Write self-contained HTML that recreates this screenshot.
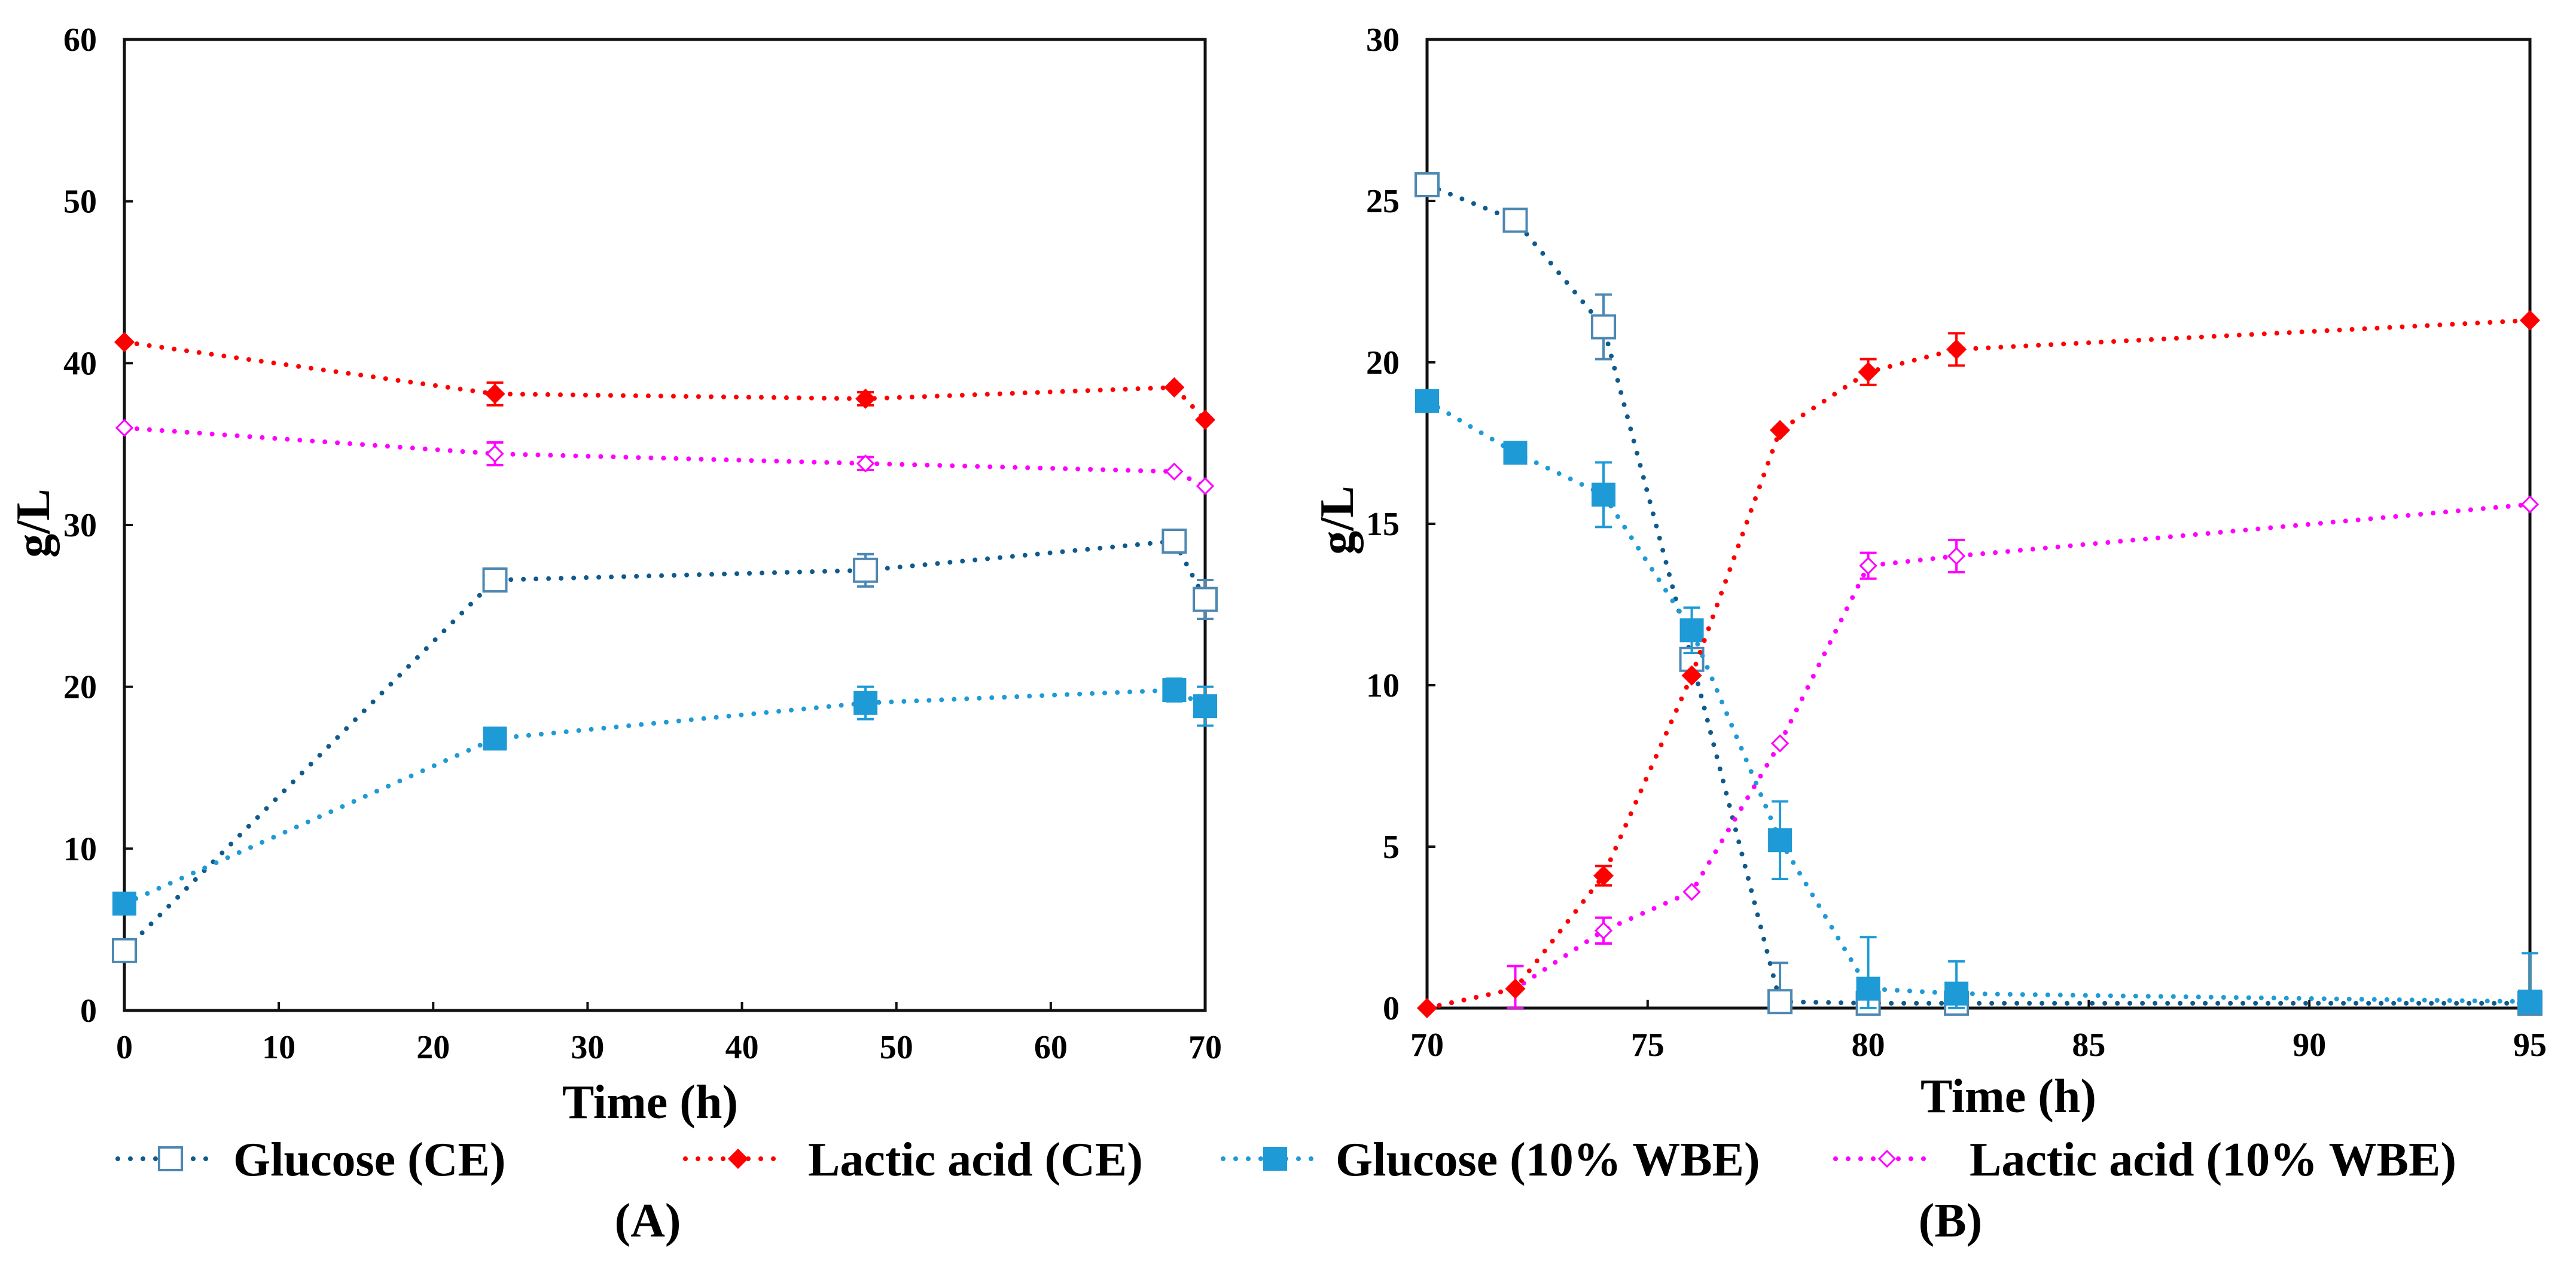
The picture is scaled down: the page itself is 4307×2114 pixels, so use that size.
<!DOCTYPE html>
<html><head><meta charset="utf-8"><style>
html,body{margin:0;padding:0;background:#fff;}
svg{display:block;font-family:"Liberation Serif","Times New Roman",serif;font-weight:bold;}
</style></head><body>
<svg id="fig" width="4307" height="2114" viewBox="0 0 4307 2114" xmlns="http://www.w3.org/2000/svg">
<g id="panelA"></g>
<g id="panelB"></g>
<g id="legend"></g>
<text x="1083" y="2068" font-size="80" text-anchor="middle">(<tspan>A</tspan>)</text>
<text x="3261" y="2068" font-size="80" text-anchor="middle">(<tspan>B</tspan>)</text>
</svg>
<script>
// ---------- Data ----------
const timeA = [0, 24, 48, 68, 70];
const glucCE_A = [3.7, 26.6, 27.2, 29.0, 25.4];
const glucCE_A_err = [0, 0, 1.0, 0.7, 1.2];
const lacCE_A = [41.3, 38.1, 37.8, 38.5, 36.5];
const lacCE_A_err = [0, 0.7, 0.4, 0, 0];
const glucWBE_A = [6.6, 16.8, 19.0, 19.8, 18.8];
const glucWBE_A_err = [0, 0, 1.0, 0.7, 1.2];
const lacWBE_A = [36.0, 34.4, 33.8, 33.3, 32.4];
const lacWBE_A_err = [0, 0.7, 0.4, 0, 0];

const timeB = [70, 72, 74, 76, 78, 80, 82, 95];
const glucCE_B = [25.5, 24.4, 21.1, 10.8, 0.2, 0.15, 0.15, 0.15];
const glucCE_B_err = [0, 0, 1.0, 0, 1.2, 0, 0, 0];
const lacCE_B = [0, 0.6, 4.1, 10.3, 17.9, 19.7, 20.4, 21.3];
const lacCE_B_err = [0, 0, 0.3, 0, 0, 0.4, 0.5, 0];
const glucWBE_B = [18.8, 17.2, 15.9, 11.7, 5.2, 0.6, 0.45, 0.2];
const glucWBE_B_err = [0, 0, 1.0, 0.7, 1.2, 1.6, 1.0, 1.5];
const lacWBE_B = [0, 0.6, 2.4, 3.6, 8.2, 13.7, 14.0, 15.6];
const lacWBE_B_err = [0, 0.7, 0.4, 0, 0, 0.4, 0.5, 0];

const ticksXA = [0, 10, 20, 30, 40, 50, 60, 70];
const ticksYA = [0, 10, 20, 30, 40, 50, 60];
const ticksXB = [70, 75, 80, 85, 90, 95];
const ticksYB = [0, 5, 10, 15, 20, 25, 30];

const C_GCE = "#0f5a8c", C_GCE_M = "#4d88b3", C_LCE = "#ff0000", C_GW = "#1e9ad6", C_LW = "#ff00ff";
const NS = "http://www.w3.org/2000/svg";
function mk(tag, attrs, parent) {
  const e = document.createElementNS(NS, tag);
  for (const k in attrs) e.setAttribute(k, attrs[k]);
  parent.appendChild(e);
  return e;
}

function marker(g, type, x, y, name) {
  let m;
  if (type === "hsq") {
    m = mk("rect", {x: x-19, y: y-19, width: 38, height: 38, fill: "#fff", stroke: C_GCE_M, "stroke-width": 4}, g);
  } else if (type === "fsq") {
    m = mk("rect", {x: x-20, y: y-20, width: 40, height: 40, fill: C_GW}, g);
  } else if (type === "fdia") {
    m = mk("polygon", {points: `${x},${y-17} ${x+17},${y} ${x},${y+17} ${x-17},${y}`, fill: C_LCE}, g);
  } else {
    m = mk("polygon", {points: `${x},${y-13} ${x+13},${y} ${x},${y+13} ${x-13},${y}`, fill: "#fff", stroke: C_LW, "stroke-width": 3}, g);
  }
  
  
}

function panel(gid, P, xs, ys, xmin, xmax, ymax, series, sx, sy) {
  const g = document.getElementById(gid);
  const X = v => P.l + (v - xmin) / (xmax - xmin) * (P.r - P.l);
  const Y = v => P.b - v / ymax * (P.b - P.t);
  const frame = mk("rect", {x: P.l, y: P.t, width: P.r - P.l, height: P.b - P.t, fill: "none", stroke: "#111", "stroke-width": 5}, g);
  
  
  xs.forEach(v => {
    const t = mk("line", {x1: X(v), x2: X(v), y1: P.b, y2: P.b - 14, stroke: "#111", "stroke-width": 4}, g);
    
    
    const l = mk("text", {x: X(v), y: P.b + 80, "font-size": 56, "text-anchor": "middle"}, g);
    l.textContent = v;
    
    
  });
  ys.forEach(v => {
    const t = mk("line", {x1: P.l, x2: P.l + 14, y1: Y(v), y2: Y(v), stroke: "#111", "stroke-width": 4}, g);
    
    
    const l = mk("text", {x: P.l - 46, y: Y(v) + 19, "font-size": 56, "text-anchor": "end"}, g);
    l.textContent = v;
    
    
  });
  const yt = mk("text", {x: sy.x, y: sy.y, "font-size": 80, "text-anchor": "middle", transform: `rotate(-90 ${sy.x} ${sy.y})`}, g);
  yt.textContent = "g/L";
  
  
  const xt = mk("text", {x: sx.x, y: sx.y, "font-size": 80, "text-anchor": "middle"}, g);
  xt.textContent = "Time (h)";
  
  

  series.forEach(s => {
    const sg = mk("g", {}, g);
    
    
    const pts = s.t.map((t, i) => X(t) + "," + Y(s.v[i])).join(" ");
    const pl = mk("polyline", {points: pts, fill: "none", stroke: s.c, "stroke-width": 8, "stroke-linecap": "round", "stroke-dasharray": "0 21"}, sg);
    
    
    s.t.forEach((t, i) => {
      const e = s.e[i];
      if (e > 0) {
        const x = X(t), y1 = Y(s.v[i] + e), y2 = Y(Math.max(0, s.v[i] - e));
        const eb = mk("path", {d: `M${x},${y1}V${y2}M${x-14},${y1}H${x+14}M${x-14},${y2}H${x+14}`, stroke: s.ec, "stroke-width": 4, fill: "none"}, sg);
        
        
      }
    });
    s.t.forEach((t, i) => marker(sg, s.m, X(t), Y(s.v[i]), s.name + '-point'));
  });
}

panel("panelA", {l: 208, r: 2015, t: 66, b: 1690}, ticksXA, ticksYA, 0, 70, 60, [
  {name: "glucose-ce-a", t: timeA, v: glucCE_A, e: glucCE_A_err, c: C_GCE, ec: C_GCE_M, m: "hsq"},
  {name: "glucose-wbe-a", t: timeA, v: glucWBE_A, e: glucWBE_A_err, c: C_GW, ec: C_GW, m: "fsq"},
  {name: "lactic-wbe-a", t: timeA, v: lacWBE_A, e: lacWBE_A_err, c: C_LW, ec: C_LW, m: "hdia"},
  {name: "lactic-ce-a", t: timeA, v: lacCE_A, e: lacCE_A_err, c: C_LCE, ec: C_LCE, m: "fdia"}
], {x: 1087, y: 1870}, {x: 82, y: 875});

panel("panelB", {l: 2386, r: 4230, t: 66, b: 1686}, ticksXB, ticksYB, 70, 95, 30, [
  {name: "glucose-ce-b", t: timeB, v: glucCE_B, e: glucCE_B_err, c: C_GCE, ec: C_GCE_M, m: "hsq"},
  {name: "glucose-wbe-b", t: timeB, v: glucWBE_B, e: glucWBE_B_err, c: C_GW, ec: C_GW, m: "fsq"},
  {name: "lactic-wbe-b", t: timeB, v: lacWBE_B, e: lacWBE_B_err, c: C_LW, ec: C_LW, m: "hdia"},
  {name: "lactic-ce-b", t: timeB, v: lacCE_B, e: lacCE_B_err, c: C_LCE, ec: C_LCE, m: "fdia"}
], {x: 3358, y: 1860}, {x: 2262, y: 870});

// legend
const L = document.getElementById("legend");
const legItems = [
  {label: "Glucose (CE)", x1: 197, x2: 362, mx: 285, tx: 390, c: C_GCE, m: "hsq"},
  {label: "Lactic acid (CE)", x1: 1146, x2: 1307, mx: 1234, tx: 1351, c: C_LCE, m: "fdia"},
  {label: "Glucose (10% WBE)", x1: 2045, x2: 2205, mx: 2132, tx: 2233, c: C_GW, m: "fsq"},
  {label: "Lactic acid (10% WBE)", x1: 3069, x2: 3227, mx: 3155, tx: 3293, c: C_LW, m: "hdia"}
];
const LY = 1938;
legItems.forEach(it => {
  const g = mk("g", {}, L);
  
  
  mk("line", {x1: it.x1, x2: it.x2, y1: LY, y2: LY, stroke: it.c, "stroke-width": 8, "stroke-linecap": "round", "stroke-dasharray": "0 21"}, g);
  marker(g, it.m, it.mx, LY, 'legend-marker');
  const t = mk("text", {x: it.tx, y: LY + 28, "font-size": 80}, g);
  t.textContent = it.label;
  
  
});
</script>
</body></html>
